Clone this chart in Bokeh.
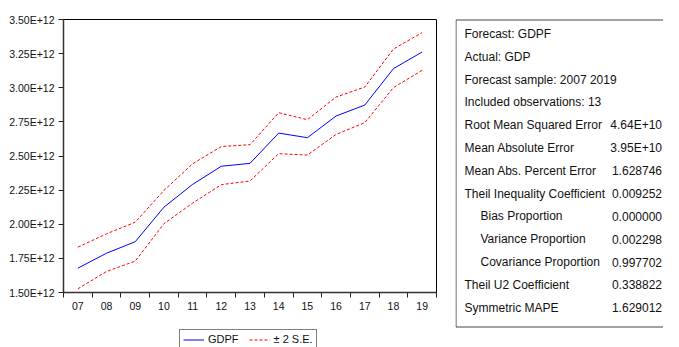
from bokeh.plotting import figure
from bokeh.models import (Range1d, FixedTicker, CustomJSTickFormatter, Legend,
                          LegendItem, ColumnDataSource)
from bokeh.layouts import row, column
from bokeh.embed import file_html
from bokeh.resources import INLINE
from bokeh.core.properties import value

# ---------------- data ----------------
years = [2007, 2008, 2009, 2010, 2011, 2012, 2013, 2014, 2015, 2016, 2017, 2018, 2019]
year_labels = ["07", "08", "09", "10", "11", "12", "13", "14", "15", "16", "17", "18", "19"]

gdpf = [1.678e12, 1.788e12, 1.872e12, 2.125e12, 2.292e12, 2.425e12, 2.446e12,
        2.668e12, 2.634e12, 2.793e12, 2.873e12, 3.140e12, 3.262e12]
upper = [1.832e12, 1.930e12, 2.015e12, 2.248e12, 2.443e12, 2.569e12, 2.583e12,
         2.817e12, 2.766e12, 2.932e12, 3.005e12, 3.284e12, 3.404e12]
lower = [1.527e12, 1.654e12, 1.730e12, 2.004e12, 2.155e12, 2.290e12, 2.317e12,
         2.517e12, 2.507e12, 2.658e12, 2.744e12, 3.001e12, 3.128e12]

y_ticks = [1.50e12, 1.75e12, 2.00e12, 2.25e12, 2.50e12, 2.75e12, 3.00e12, 3.25e12, 3.50e12]
y_tick_labels = ["1.50E+12", "1.75E+12", "2.00E+12", "2.25E+12", "2.50E+12",
                 "2.75E+12", "3.00E+12", "3.25E+12", "3.50E+12"]

legend_labels = ["GDPF", "\u00b1 2 S.E."]

stat_labels = ["Forecast: GDPF", "Actual: GDP", "Forecast sample: 2007 2019",
               "Included observations: 13", "Root Mean Squared Error",
               "Mean Absolute Error", "Mean Abs. Percent Error",
               "Theil Inequality Coefficient", "Bias Proportion",
               "Variance Proportion", "Covariance Proportion",
               "Theil U2 Coefficient", "Symmetric MAPE"]
stat_values = ["", "", "", "", "4.64E+10", "3.95E+10", "1.628746", "0.009252",
               "0.000000", "0.002298", "0.997702", "0.338822", "1.629012"]
stat_indent = [False, False, False, False, False, False, False, False,
               True, True, True, False, False]

FONT = "Liberation Sans"
BLUE = "#0000ff"
RED = "#ff0000"
DASH = "3 2"

# ---------------- main chart ----------------
W1 = 455
H1 = 320
p = figure(width=W1, height=H1, output_backend="svg", toolbar_location=None,
           x_range=Range1d(2006.5, 2019.5), y_range=Range1d(1.5e12, 3.5e12),
           min_border_left=63, min_border_right=19, min_border_top=19,
           min_border_bottom=28, background_fill_color="white",
           border_fill_color="white")
p.xgrid.visible = False
p.ygrid.visible = False
p.outline_line_color = "black"
p.outline_line_width = 1
p.outline_line_alpha = 1

src = ColumnDataSource(dict(x=years, f=gdpf, u=upper, l=lower))
p.line("x", "f", source=src, line_color=BLUE, line_width=1)
p.line("x", "u", source=src, line_color=RED, line_width=1, line_dash=DASH)
p.line("x", "l", source=src, line_color=RED, line_width=1, line_dash=DASH)

# x axis: labels at year centres, tick marks at boundaries
x_bounds = [y - 0.5 for y in years] + [years[-1] + 0.5]
p.xaxis.ticker = FixedTicker(ticks=years, minor_ticks=x_bounds)
p.xaxis.formatter = CustomJSTickFormatter(
    args=dict(yrs=years, ylab=year_labels),
    code="const i = yrs.indexOf(Math.round(tick)); return i >= 0 ? ylab[i] : '';")
p.xaxis.major_tick_out = 0
p.xaxis.major_tick_in = 0
p.xaxis.minor_tick_out = 5
p.xaxis.minor_tick_in = 0
p.xaxis.minor_tick_line_color = "#222222"
p.xaxis.major_label_standoff = 4

p.yaxis.ticker = FixedTicker(ticks=y_ticks)
p.yaxis.formatter = CustomJSTickFormatter(
    args=dict(yt=y_ticks, ytl=y_tick_labels),
    code="let i = -1; for (let k = 0; k < yt.length; k++) { if (Math.abs(yt[k] - tick) < 1e8) i = k; } return i >= 0 ? ytl[i] : '';")
p.yaxis.major_tick_out = 5
p.yaxis.major_tick_in = 0
p.yaxis.minor_tick_line_color = None
p.yaxis.major_label_standoff = 4

for ax in (p.xaxis, p.yaxis):
    ax.axis_line_color = "#333333"
    ax.axis_line_width = 1.5
    ax.major_tick_line_color = "#222222"
    ax.major_label_text_font = FONT
    ax.major_label_text_font_size = "10.5px"
    ax.major_label_text_color = "#111111"

# ---------------- legend strip under the chart ----------------
H_L = 27
lg = figure(width=W1, height=H_L, output_backend="svg", toolbar_location=None,
            x_range=Range1d(0, W1), y_range=Range1d(0, H_L), min_border=0,
            background_fill_color="white", border_fill_color="white")
lg.axis.visible = False
lg.grid.visible = False
lg.outline_line_color = None
# legend-only renderers (a single point draws nothing on the canvas)
g_f = lg.line(x=[0], y=[0], line_color=BLUE, line_width=1)
g_s = lg.line(x=[0], y=[0], line_color=RED, line_width=1, line_dash=DASH)
legend = Legend(items=[LegendItem(label=legend_labels[0], renderers=[g_f]),
                       LegendItem(label=legend_labels[1], renderers=[g_s])],
                orientation="horizontal", location=(116, -2))
legend.border_line_color = "black"
legend.border_line_width = 1
legend.background_fill_color = "white"
legend.background_fill_alpha = 1
legend.label_text_font = FONT
legend.label_text_font_size = "11px"
legend.label_text_color = "#111111"
legend.glyph_width = 21
legend.glyph_height = 11
legend.label_height = 11
legend.label_standoff = 4
legend.spacing = 10
legend.padding = 3
legend.margin = 0
lg.add_layout(legend)

# ---------------- statistics box ----------------
W2 = 208
H2 = H1 + H_L
q = figure(width=W2, height=H2, output_backend="svg", toolbar_location=None,
           x_range=Range1d(0, W2), y_range=Range1d(H2, 0),
           min_border=0, background_fill_color="white", border_fill_color="white")
q.axis.visible = False
q.grid.visible = False
q.outline_line_color = None

q.quad(left=[0.5], right=[W2 + 20], top=[19.5], bottom=[326.5],
       fill_color="white", line_color="#444444", line_width=1)

row_y = [33.5 + 22.8 * i for i in range(len(stat_labels))]
lab_x = [25 if ind else 9 for ind in stat_indent]
q.text(x=lab_x, y=row_y, text=stat_labels, text_font=value(FONT),
       text_font_size="12px", text_color="#111111", text_baseline="middle",
       text_align="left")
val_rows = [i for i, v in enumerate(stat_values) if v]
q.text(x=[206.5] * len(val_rows), y=[row_y[i] for i in val_rows],
       text=[stat_values[i] for i in val_rows], text_font=value(FONT),
       text_font_size="12px", text_color="#111111", text_baseline="middle",
       text_align="right")

layout = row(column(p, lg), q)
open("out.html", "w").write(file_html(layout, INLINE))
